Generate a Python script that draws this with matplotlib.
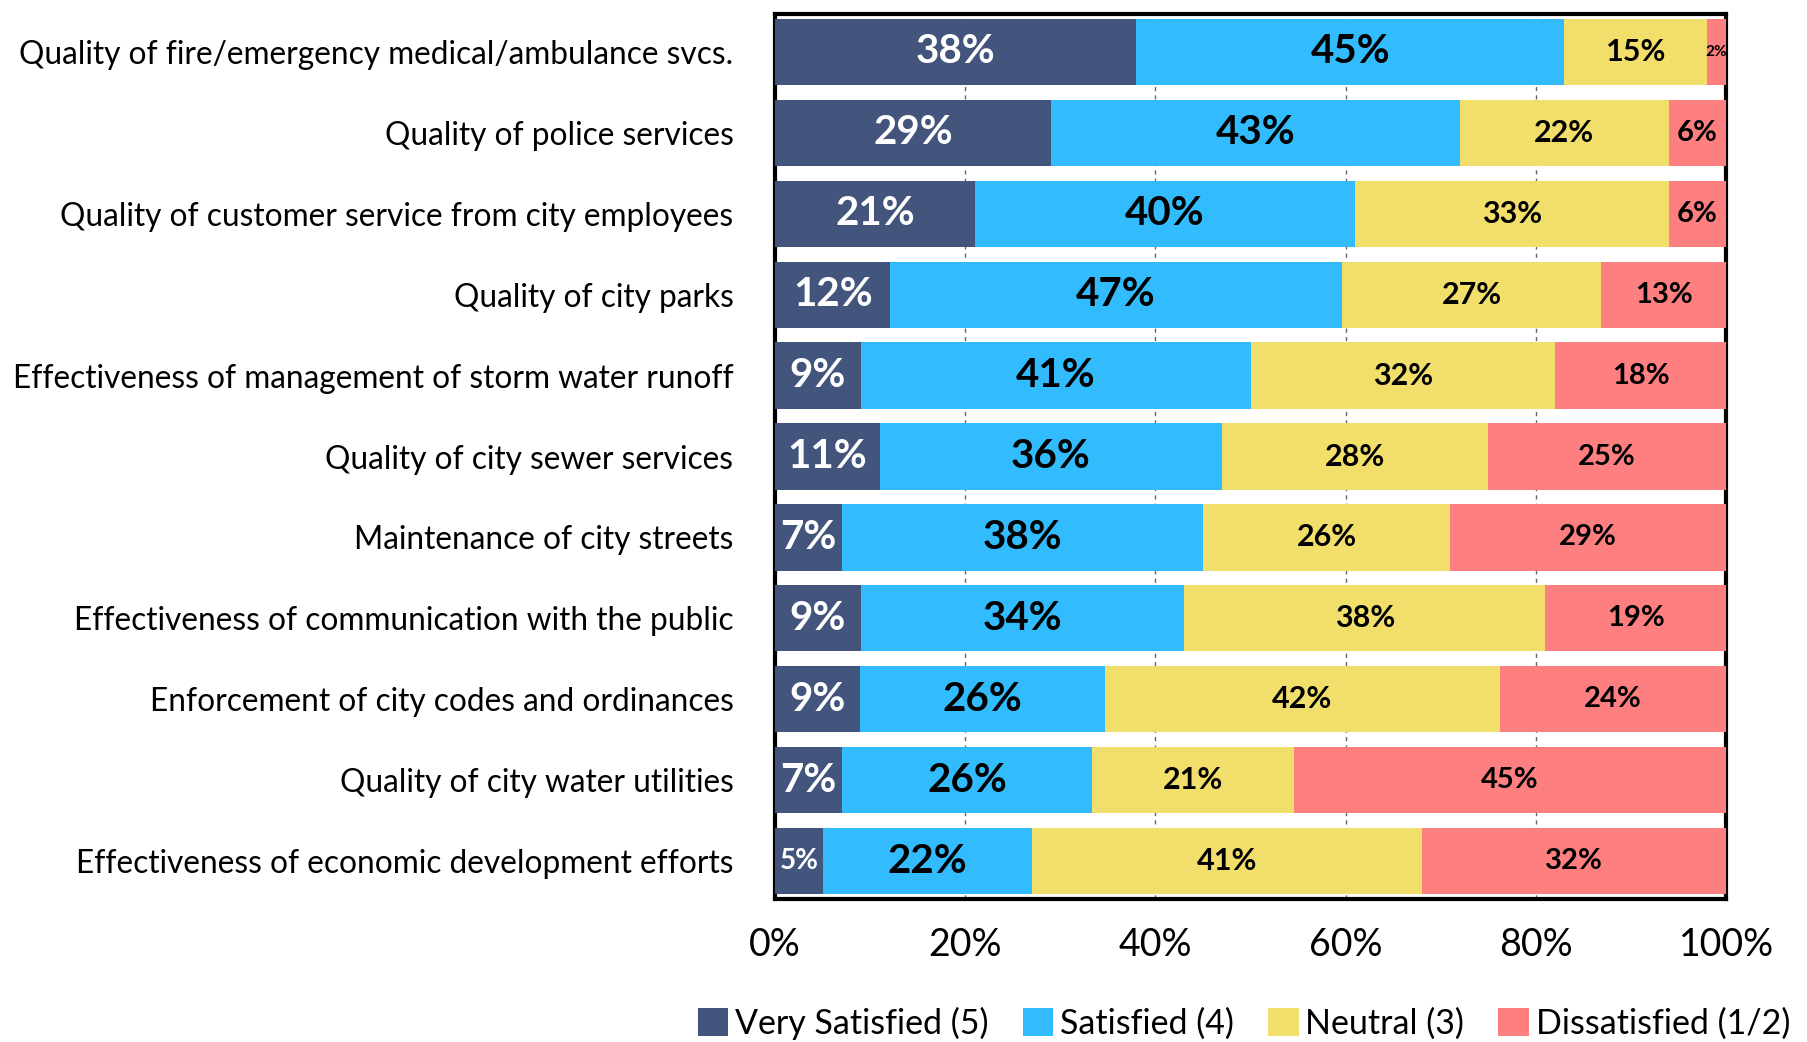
import matplotlib.pyplot as plt
import numpy as np

categories = [
    'Quality of fire/emergency medical/ambulance svcs.',
    'Quality of police services',
    'Quality of customer service from city employees',
    'Quality of city parks',
    'Effectiveness of management of storm water runoff',
    'Quality of city sewer services',
    'Maintenance of city streets',
    'Effectiveness of communication with the public',
    'Enforcement of city codes and ordinances',
    'Quality of city water utilities',
    'Effectiveness of economic development efforts',
]

very_satisfied = [38, 29, 21, 12, 9, 11, 7, 9, 9, 7, 5]
satisfied = [45, 43, 40, 47, 41, 36, 38, 34, 26, 26, 22]
neutral = [15, 22, 33, 27, 32, 28, 26, 38, 42, 21, 41]
dissatisfied = [2, 6, 6, 13, 18, 25, 29, 19, 24, 45, 32]

series_names = ['Very Satisfied (5)', 'Satisfied (4)', 'Neutral (3)', 'Dissatisfied (1/2)']
colors = ['#44557d', '#33bcfd', '#f2df6b', '#fe7f7f']
text_colors = ['white', 'black', 'black', 'black']
label_sizes = [29, 29, 22, 21]

plt.rcParams['font.family'] = ['Lato', 'DejaVu Sans']

data = np.array([very_satisfied, satisfied, neutral, dissatisfied], dtype=float)
# 100% stacked, like the original spreadsheet chart
shares = data / data.sum(axis=0) * 100

fig = plt.figure(figsize=(18.08, 10.42), dpi=100)
ax = fig.add_axes([0.4287, 0.1372, 0.5260, 0.8494])

y = np.arange(len(categories))
left = np.zeros(len(categories))
for i, name in enumerate(series_names):
    ax.barh(y, shares[i], left=left, height=0.82, color=colors[i],
            label=name, zorder=3)
    for j in range(len(categories)):
        val = int(data[i, j])
        size = label_sizes[i]
        if val <= 2:
            size = 11
        elif val <= 5:
            size = 20
        ax.text(left[j] + shares[i, j] / 2, y[j], f'{val}%', ha='center',
                va='center', color=text_colors[i], fontsize=size,
                fontweight='bold', zorder=4)
    left += shares[i]

ax.set_xlim(0, 100)
ax.set_ylim(10.47, -0.47)
ax.set_yticks(y)
ax.set_yticklabels(categories, fontsize=22.8)
ax.set_xticks([0, 20, 40, 60, 80, 100])
ax.set_xticklabels(['0%', '20%', '40%', '60%', '80%', '100%'], fontsize=27)
ax.tick_params(axis='both', length=0)
ax.tick_params(axis='y', pad=30)
ax.tick_params(axis='x', pad=20)
ax.grid(axis='x', color='#666666', linestyle=(0, (3, 3)), linewidth=1, zorder=0)
for s in ax.spines.values():
    s.set_linewidth(3)
    s.set_color('black')

fig.legend(loc='center', bbox_to_anchor=(0.688, 0.018), ncol=4, frameon=False,
           fontsize=24.5, handlelength=0.9, handleheight=0.9, handletextpad=0.2,
           columnspacing=1.0, borderaxespad=0)

fig.savefig('out.png', dpi=100)
